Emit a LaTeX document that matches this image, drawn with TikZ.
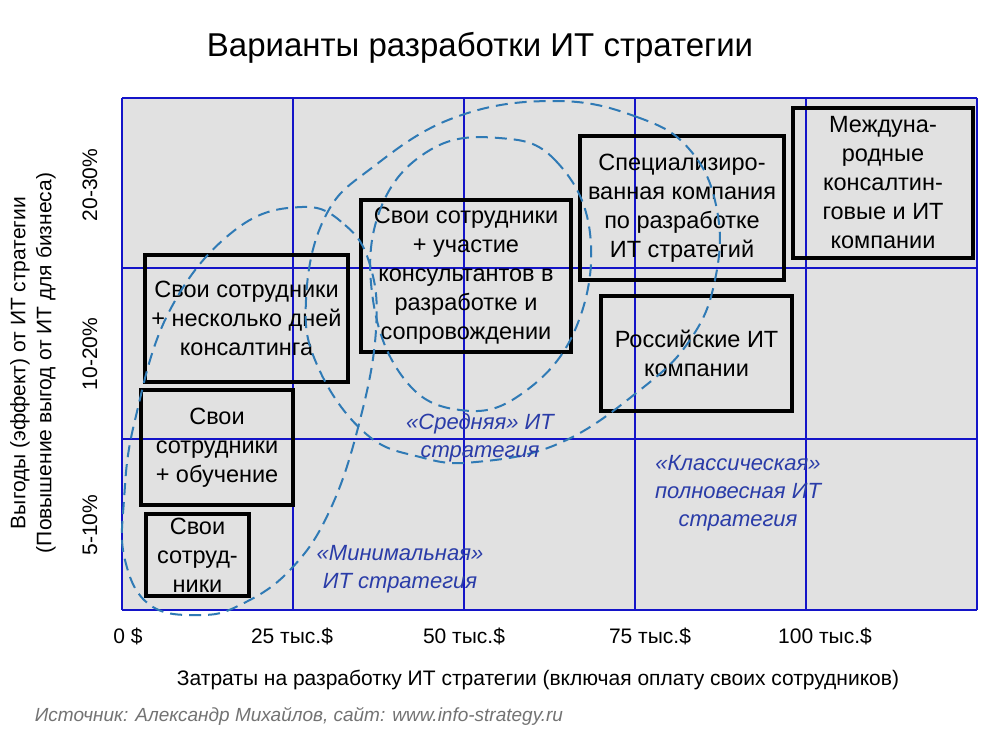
\documentclass[tikz,border=0pt]{standalone}
\usepackage{fontspec}
\setmainfont{Liberation Sans}
\usetikzlibrary{positioning}
\definecolor{gridblue}{HTML}{1414C8}
\definecolor{capblue}{HTML}{2A3CA8}
\definecolor{loopblue}{HTML}{2F7AB5}
\definecolor{panel}{HTML}{E1E1E1}
\tikzset{x=1pt,y=-1pt,
variant/.style={ % boxes with the kinds of strategy
draw=black, line width=3.4pt, align=center, inner sep=0pt,
font=\fontsize{23.5}{29}\selectfont},
zone/.style={ % dashed loops
draw=loopblue, dash pattern=on 12pt off 7pt, line width=2pt},
zonetext/.style={text=capblue, align=center,
font=\itshape\fontsize{22}{28}\selectfont},
axistext/.style={font=\fontsize{21}{26}\selectfont, align=center}}
\begin{document}
\begin{tikzpicture}
\useasboundingbox[fill=white] (0,0) rectangle (982,734);
\fill[panel] (122,98) rectangle (977,610);
% grid
\foreach \gx in {122,293,464,635,806,977}
  \draw[gridblue, line width=2pt] (\gx,98) -- (\gx,610);
\foreach \gy in {98,268,439,610}
  \draw[gridblue, line width=2pt] (122,\gy) -- (977,\gy);

\node[font=\fontsize{33}{36}\selectfont] (title) at (480,48) {Варианты разработки ИТ стратегии};

% boxes
\node[variant, minimum width=203pt, minimum height=127pt] (few) at (246.5,318.5) {Свои сотрудники\\+ несколько дней\\консалтинга};
\node[variant, minimum width=152pt, minimum height=115pt] (train) at (217,447.5) {Свои\\сотрудники\\+ обучение};
\node[variant, minimum width=103pt, minimum height=82pt] (own) at (197.5,555) {Свои\\сотруд-\\ники};
\node[variant, minimum width=210pt, minimum height=152pt] (consult) at (466,276) {Свои сотрудники\\+ участие\\консультантов в\\разработке и\\сопровождении};
\node[variant, minimum width=204pt, minimum height=144pt] (special) at (682,208) {Специализиро-\\ванная компания\\по разработке\\ИТ стратегий};
\node[variant, minimum width=191pt, minimum height=115pt] (russian) at (696.5,353.5) {Российские ИТ\\компании};
\node[variant, minimum width=180pt, minimum height=150pt] (intl) at (883,183) {Междуна-\\родные\\консалтин-\\говые и ИТ\\компании};

% dashed loops
\draw[zone] plot[smooth cycle, tension=0.7] coordinates {(302,207) (345,225) (370,265) (376,330) (360,420) (330,510) (290,570) (240,605) (199,615) (150,605) (125,560) (124,500) (135,420) (170,310) (235,230)};
\draw[zone] plot[smooth cycle, tension=0.7] coordinates {(499,138) (555,160) (590,233) (575,330) (520,395) (460,410) (405,380) (373,300) (380,210) (430,150)};
\draw[zone] plot[smooth cycle, tension=0.7] coordinates {(555,101) (637,117) (690,150) (717,210) (715,280) (690,340) (640,390) (560,443) (476,462) (420,457) (365,433) (318,367) (306,300) (325,217) (373,167) (456,117)};

\node[zonetext] (mid) at (480,438) {«Средняя» ИТ\\стратегия};
\node[zonetext] (mini) at (400,569) {«Минимальная»\\ИТ стратегия};
\node[zonetext] (classic) at (738,493) {«Классическая»\\полновесная ИТ\\стратегия};

% axes
\node[axistext, rotate=90] (y3) at (90,185) {20-30\%};
\node[axistext, rotate=90] (y2) at (90,354) {10-20\%};
\node[axistext, rotate=90] (y1) at (90,525) {5-10\%};
\node[axistext, rotate=90, font=\fontsize{21}{26}\selectfont] (ytitle) at (33,363) {Выгоды (эффект) от ИТ стратегии\\(Повышение выгод от ИТ для бизнеса)};
\node[axistext] (x0) at (128,636) {0 \$};
\node[axistext] (x1) at (292,636) {25 тыс.\$};
\node[axistext] (x2) at (464,636) {50 тыс.\$};
\node[axistext] (x3) at (650,636) {75 тыс.\$};
\node[axistext] (x4) at (825,636) {100 тыс.\$};
\node[axistext, font=\fontsize{21}{26}\selectfont] (xtitle) at (538,680) {Затраты на разработку ИТ стратегии (включая оплату своих сотрудников)};
\node[text=gray!90!black, font=\itshape\fontsize{19}{22}\selectfont] (src) at (299,716) {Источник: Александр Михайлов, сайт: www.info-strategy.ru};
\end{tikzpicture}
\end{document}
